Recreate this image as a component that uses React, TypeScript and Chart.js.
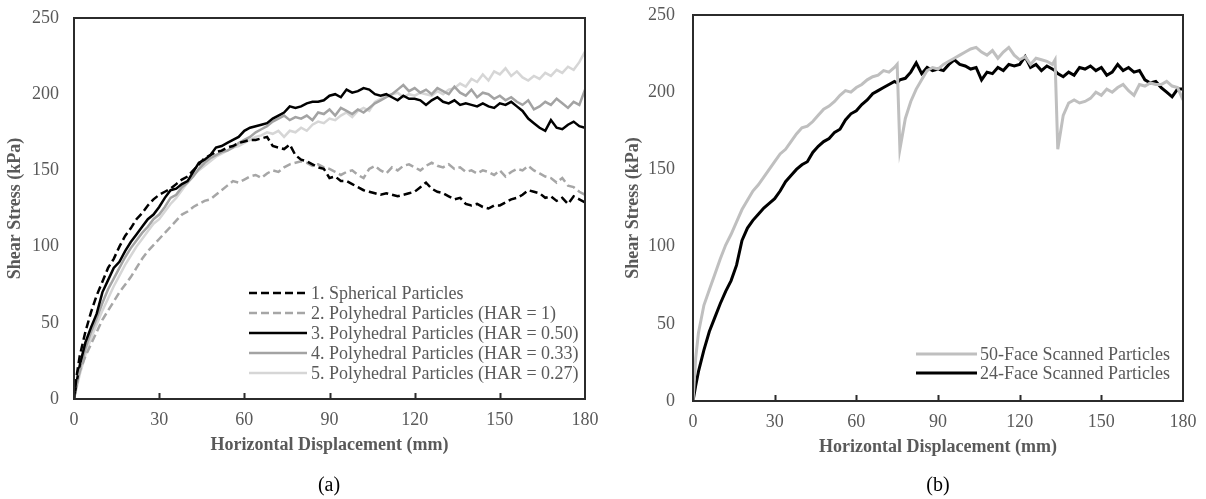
import React, { useEffect, useRef } from 'react';
import { Chart, registerables } from 'chart.js';

Chart.register(...registerables);

const FONT = "'Liberation Serif', 'Times New Roman', serif";
const TEXT_GRAY = '#595959';

// ---------- Panel (a) ----------
const X_A = [0, 1, 2, 4, 6, 8, 10, 12, 14, 16, 18, 20, 22, 24, 26, 28, 30, 32, 34, 36, 38, 40, 42, 44, 46, 48, 50, 52, 54, 56, 58, 60, 62, 64, 66, 68, 70, 72, 74, 76, 78, 80, 82, 84, 86, 88, 90, 92, 94, 96, 98, 100, 102, 104, 106, 108, 110, 112, 114, 116, 118, 120, 122, 124, 126, 128, 130, 132, 134, 136, 138, 140, 142, 144, 146, 148, 150, 152, 154, 156, 158, 160, 162, 164, 166, 168, 170, 172, 174, 176, 178, 180];

const SPHERICAL = [0, 16, 28, 44, 57, 68, 77, 86, 92, 100, 107, 112, 118, 122, 127, 131, 134, 136, 138, 141, 144, 146, 150, 154, 158, 160, 162, 163, 165, 166, 168, 169, 170, 170, 171, 172, 166, 165, 164, 167, 160, 157, 156, 154, 152, 151, 145, 146, 143, 143, 141, 139, 137, 136, 135, 134, 135, 134, 133, 134, 135, 136, 139, 142, 138, 136, 135, 133, 131, 132, 128, 127, 128, 126, 125, 127, 127, 129, 131, 132, 134, 137, 136, 135, 132, 133, 130, 132, 128, 133, 131, 129];

const POLY_HAR_1 = [0, 10, 18, 28, 36, 44, 52, 58, 64, 70, 75, 80, 86, 92, 97, 101, 105, 109, 113, 117, 121, 123, 126, 128, 130, 131, 134, 137, 140, 143, 142, 144, 146, 147, 145, 148, 150, 149, 152, 154, 155, 156, 155, 153, 154, 152, 151, 149, 147, 149, 150, 147, 145, 151, 153, 150, 148, 152, 150, 153, 154, 152, 150, 153, 155, 153, 152, 154, 151, 152, 149, 150, 148, 150, 149, 147, 150, 146, 149, 151, 150, 153, 150, 148, 146, 145, 142, 145, 140, 139, 136, 134];

const POLY_HAR_050 = [0, 12, 22, 37, 47, 56, 70, 78, 86, 90, 97, 103, 108, 113, 118, 121, 126, 132, 137, 138, 141, 143, 149, 155, 157, 160, 165, 166, 168, 170, 172, 176, 178, 179, 180, 181, 184, 186, 188, 192, 191, 192, 194, 195, 195, 196, 199, 200, 198, 203, 201, 202, 204, 203, 200, 199, 200, 198, 196, 199, 197, 197, 196, 193, 196, 198, 195, 194, 196, 193, 194, 193, 192, 194, 192, 191, 194, 193, 195, 192, 189, 184, 181, 178, 176, 183, 178, 177, 180, 182, 179, 178];

const POLY_HAR_033 = [0, 10, 19, 33, 44, 53, 63, 72, 79, 86, 93, 99, 104, 109, 113, 118, 121, 126, 132, 134, 139, 142, 146, 151, 155, 158, 160, 162, 163, 165, 168, 170, 172, 175, 177, 179, 182, 184, 186, 183, 185, 184, 186, 183, 188, 187, 190, 186, 191, 189, 187, 190, 188, 191, 194, 196, 198, 200, 203, 206, 202, 204, 201, 203, 200, 204, 202, 200, 205, 201, 199, 203, 198, 201, 200, 197, 199, 196, 198, 195, 193, 196, 190, 192, 195, 193, 197, 194, 191, 195, 193, 203];

const POLY_HAR_027 = [0, 8, 16, 29, 40, 49, 58, 66, 74, 81, 88, 94, 100, 105, 110, 115, 118, 123, 128, 132, 137, 142, 147, 150, 153, 156, 159, 161, 163, 165, 166, 168, 170, 172, 173, 175, 174, 176, 172, 176, 175, 178, 176, 180, 182, 181, 184, 183, 186, 188, 185, 189, 191, 189, 195, 197, 199, 200, 201, 198, 200, 199, 201, 200, 199, 202, 200, 203, 204, 207, 205, 210, 208, 213, 209, 215, 213, 217, 212, 215, 211, 209, 212, 210, 214, 212, 216, 214, 218, 216, 221, 228];

const LABELS_A = [
  '1. Spherical Particles',
  '2. Polyhedral Particles (HAR = 1)',
  '3. Polyhedral Particles (HAR = 0.50)',
  '4. Polyhedral Particles (HAR = 0.33)',
  '5. Polyhedral Particles (HAR = 0.27)',
];

// ---------- Panel (b) ----------
const X_B = [0, 1, 2, 4, 6, 8, 10, 12, 14, 16, 18, 20, 22, 24, 26, 28, 30, 32, 34, 36, 38, 40, 42, 44, 46, 48, 50, 52, 54, 56, 58, 60, 62, 64, 66, 68, 70, 72, 74, 75, 76, 78, 80, 82, 84, 86, 88, 90, 92, 94, 96, 98, 100, 102, 104, 106, 108, 110, 112, 114, 116, 118, 120, 122, 124, 126, 128, 130, 132, 133, 134, 136, 138, 140, 142, 144, 146, 148, 150, 152, 154, 156, 158, 160, 162, 164, 166, 168, 170, 172, 174, 176, 178, 180];

const FACE_50 = [0, 28, 44, 62, 72, 82, 92, 101, 108, 116, 124, 130, 136, 140, 145, 150, 155, 160, 163, 168, 173, 177, 178, 181, 185, 189, 191, 194, 198, 201, 200, 203, 205, 208, 210, 211, 214, 213, 216, 218, 163, 183, 194, 202, 208, 214, 216, 215, 218, 220, 222, 224, 226, 228, 229, 226, 224, 227, 222, 226, 229, 224, 221, 223, 218, 222, 221, 220, 218, 221, 163, 185, 193, 195, 193, 194, 196, 200, 198, 202, 200, 203, 205, 201, 198, 205, 204, 206, 205, 205, 207, 204, 203, 195];

const FACE_24 = [0, 10, 19, 33, 45, 54, 63, 71, 78, 88, 104, 112, 117, 121, 125, 128, 131, 136, 142, 146, 150, 153, 155, 161, 165, 168, 170, 174, 176, 182, 186, 188, 192, 195, 199, 201, 203, 205, 207, 206, 208, 209, 213, 219, 212, 216, 214, 215, 214, 218, 221, 218, 217, 215, 216, 208, 213, 212, 216, 214, 218, 217, 218, 223, 216, 218, 214, 217, 215, 214, 212, 210, 213, 211, 216, 215, 217, 214, 216, 211, 213, 218, 214, 216, 213, 214, 208, 206, 207, 203, 200, 197, 202, 202];

const LABELS_B = ['50-Face Scanned Particles', '24-Face Scanned Particles'];

const X_TICKS = [0, 30, 60, 90, 120, 150, 180];
const Y_TICKS = [0, 50, 100, 150, 200, 250];
const X_TITLE = 'Horizontal Displacement (mm)';
const Y_TITLE = 'Shear Stress (kPa)';

const pts = (xs: number[], ys: number[]) => xs.map((x, i) => ({ x, y: ys[i] }));

const framePlugin = {
  id: 'frame',
  afterDatasetsDraw(chart: any, _args: any, opts: any) {
    const { ctx, chartArea } = chart;
    const { left, top, right, bottom } = chartArea;
    const xs = chart.scales.x;
    ctx.save();
    ctx.strokeStyle = opts.color;
    ctx.lineWidth = opts.width;
    ctx.strokeRect(left, top, right - left, bottom - top);
    ctx.beginPath();
    X_TICKS.forEach((v) => {
      if (v > xs.min && v < xs.max) {
        const px = Math.round(xs.getPixelForValue(v)) + 0.5;
        ctx.moveTo(px, bottom);
        ctx.lineTo(px, bottom - opts.tick);
      }
    });
    ctx.stroke();
    ctx.restore();
  },
};

const legendPlugin = {
  id: 'insideLegend',
  afterDatasetsDraw(chart: any, _args: any, opts: any) {
    const ctx = chart.ctx;
    ctx.save();
    ctx.font = `${opts.fontSize}px ${FONT}`;
    ctx.textBaseline = 'middle';
    ctx.textAlign = 'left';
    chart.data.datasets.forEach((ds: any, i: number) => {
      const y = opts.y + i * opts.rowH;
      ctx.beginPath();
      ctx.setLineDash(ds.borderDash || []);
      ctx.strokeStyle = ds.borderColor;
      ctx.lineWidth = ds.borderWidth;
      ctx.moveTo(opts.x, y);
      ctx.lineTo(opts.x + opts.lineLen, y);
      ctx.stroke();
      ctx.setLineDash([]);
      ctx.fillStyle = TEXT_GRAY;
      ctx.fillText(ds.label, opts.x + opts.lineLen + opts.gap, y + 1);
    });
    ctx.restore();
  },
};

function buildConfig(p: {
  datasets: any[];
  yAxisWidth: number;
  xAxisHeight: number;
  padding: any;
  yTickPad: number;
  xTickPad: number;
  yTitlePad: number;
  xTitlePad: number;
  legend: any;
}) {
  return {
    type: 'line',
    data: { datasets: p.datasets },
    options: {
      animation: false,
      responsive: false,
      layout: { padding: p.padding },
      elements: { point: { radius: 0 }, line: { tension: 0 } },
      plugins: {
        legend: { display: false },
        tooltip: { enabled: false },
        frame: { color: '#2b2b2b', width: 2, tick: 6 },
        insideLegend: p.legend,
      },
      scales: {
        x: {
          type: 'linear',
          min: 0,
          max: 180,
          afterBuildTicks: (s: any) => { s.ticks = X_TICKS.map((v) => ({ value: v })); },
          afterFit: (s: any) => {
            s.height = p.xAxisHeight;
            s.paddingLeft = 0; s.paddingRight = 0; s.paddingTop = 0; s.paddingBottom = 0;
          },
          grid: { display: false, drawTicks: false },
          border: { display: false },
          ticks: { color: TEXT_GRAY, font: { family: FONT, size: 18 }, padding: p.xTickPad, maxRotation: 0 },
          title: {
            display: true,
            text: X_TITLE,
            color: TEXT_GRAY,
            font: { family: FONT, size: 18, weight: 'bold' },
            padding: { top: 0, bottom: p.xTitlePad },
          },
        },
        y: {
          type: 'linear',
          min: 0,
          max: 250,
          afterBuildTicks: (s: any) => { s.ticks = Y_TICKS.map((v) => ({ value: v })); },
          afterFit: (s: any) => {
            s.width = p.yAxisWidth;
            s.paddingLeft = 0; s.paddingRight = 0; s.paddingTop = 0; s.paddingBottom = 0;
          },
          grid: { display: false, drawTicks: false },
          border: { display: false },
          ticks: { color: TEXT_GRAY, font: { family: FONT, size: 18 }, padding: p.yTickPad },
          title: {
            display: true,
            text: Y_TITLE,
            color: TEXT_GRAY,
            font: { family: FONT, size: 18, weight: 'bold' },
            padding: { top: p.yTitlePad, bottom: 0 },
          },
        },
      },
    },
    plugins: [framePlugin, legendPlugin],
  };
}

const configA = () =>
  buildConfig({
    datasets: [
      { label: LABELS_A[0], data: pts(X_A, SPHERICAL), borderColor: '#000000', borderWidth: 2.5, borderDash: [8, 4] },
      { label: LABELS_A[1], data: pts(X_A, POLY_HAR_1), borderColor: '#a6a6a6', borderWidth: 2.5, borderDash: [8, 4] },
      { label: LABELS_A[2], data: pts(X_A, POLY_HAR_050), borderColor: '#000000', borderWidth: 2.5 },
      { label: LABELS_A[3], data: pts(X_A, POLY_HAR_033), borderColor: '#a3a3a3', borderWidth: 2.5 },
      { label: LABELS_A[4], data: pts(X_A, POLY_HAR_027), borderColor: '#d6d6d6', borderWidth: 2.5 },
    ],
    yAxisWidth: 74,
    xAxisHeight: 100,
    padding: { left: 0, top: 18, right: 18, bottom: 0 },
    yTickPad: 15,
    xTickPad: 10,
    yTitlePad: 5,
    xTitlePad: 43,
    legend: { x: 249, y: 293, rowH: 20, lineLen: 58, gap: 4, fontSize: 18 },
  });

const configB = () =>
  buildConfig({
    datasets: [
      { label: LABELS_B[0], data: pts(X_B, FACE_50), borderColor: '#bfbfbf', borderWidth: 3 },
      { label: LABELS_B[1], data: pts(X_B, FACE_24), borderColor: '#000000', borderWidth: 3 },
    ],
    yAxisWidth: 90,
    xAxisHeight: 98,
    padding: { left: 0, top: 15, right: 23, bottom: 0 },
    yTickPad: 18,
    xTickPad: 10,
    yTitlePad: 20,
    xTitlePad: 41,
    legend: { x: 313, y: 354, rowH: 19, lineLen: 61, gap: 3, fontSize: 18 },
  });

function Panel({ build, left, caption, captionX }: { build: () => any; left: number; caption: string; captionX: number }) {
  const ref = useRef<HTMLCanvasElement>(null);
  useEffect(() => {
    const chart = new Chart(ref.current as HTMLCanvasElement, build() as any);
    return () => chart.destroy();
  }, []);
  return (
    <>
      <canvas ref={ref} width={603} height={499} style={{ position: 'absolute', left, top: 0, width: 603, height: 499 }} />
      <div
        style={{
          position: 'absolute',
          left: captionX - 30,
          width: 60,
          top: 473,
          textAlign: 'center',
          fontFamily: FONT,
          fontSize: 20,
          lineHeight: '23px',
          color: '#000',
        }}
      >
        {caption}
      </div>
    </>
  );
}

export default function App() {
  return (
    <div style={{ position: 'absolute', left: 0, top: 0, width: 1206, height: 499, background: '#fff', overflow: 'hidden' }}>
      <Panel build={configA} left={0} caption="(a)" captionX={329} />
      <Panel build={configB} left={603} caption="(b)" captionX={938} />
    </div>
  );
}
